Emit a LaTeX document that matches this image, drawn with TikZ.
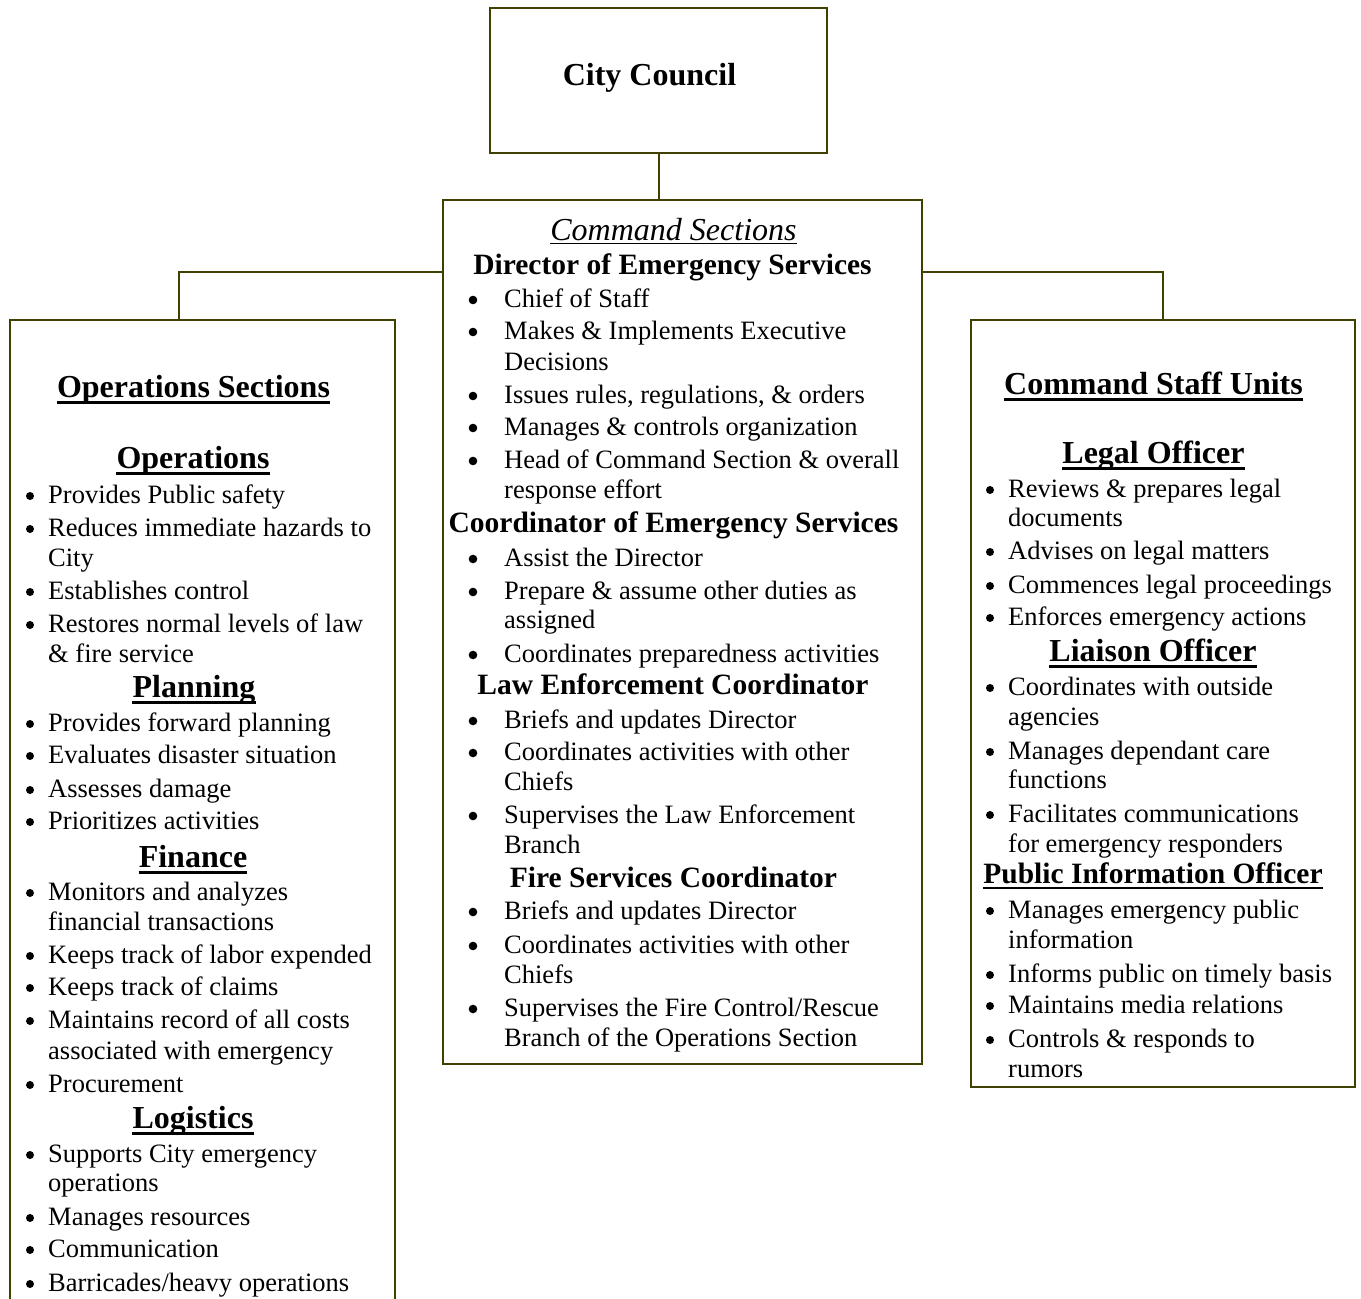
\documentclass[tikz,border=0pt]{standalone}
\usepackage{fontspec}
\setmainfont{Liberation Serif}
\definecolor{boxline}{RGB}{64,64,0}
\tikzset{
 box/.style={draw=boxline, line width=2pt, inner sep=0pt, outer sep=0pt},
 conn/.style={draw=boxline, line width=2pt},
 body/.style={anchor=base west, inner sep=0pt, font=\fontsize{26.5}{32}\selectfont},
 bdot/.style={circle, fill=black, draw=none, inner sep=0pt, minimum size=8.6pt, yshift=7pt},
 hbig/.style={anchor=base, inner sep=0pt, font=\fontsize{32}{38}\selectfont\bfseries},
 hmid/.style={anchor=base, inner sep=0pt, font=\fontsize{29.5}{35}\selectfont\bfseries},
 hital/.style={anchor=base, inner sep=0pt, font=\fontsize{32}{38}\selectfont\itshape},
 ulbold/.style={line width=2.5pt, black},
 ulital/.style={line width=1.6pt, black},
}
\newcommand\ulunder[3]{\draw[#2] ([yshift=-#3]#1.base west) -- ([yshift=-#3]#1.base east);}
\begin{document}
\begin{tikzpicture}[x=1pt,y=-1pt]
\useasboundingbox (0,0) rectangle (1361,1299);
\clip (0,0) rectangle (1361,1299);

% boxes
\node[box, minimum width=337pt, minimum height=145pt] (council) at (658.5,80.5) {};
\node[box, minimum width=479pt, minimum height=864pt] (cmd) at (682.5,632) {};
\node[box, minimum width=385pt, minimum height=990pt] (ops) at (202.5,815) {};
\node[box, minimum width=384pt, minimum height=767pt] (staff) at (1163,703.5) {};

% connectors
\draw[conn] (council.south) -- (council.south |- cmd.north);
\draw[conn] ([yshift=-72pt]cmd.north west) -| ([xshift=169pt]ops.north west);
\draw[conn] ([yshift=-72pt]cmd.north east) -| ([xshift=192pt]staff.north west);

% City Council
\node[hbig] (councilt) at (649.5,85) {City Council};

% ---------------- left box ----------------
\node[hbig] (opsh) at (193.5,397) {Operations Sections};
\ulunder{opsh}{ulbold}{5.5pt}
\node[hbig] (oph1) at (193,468) {Operations};
\ulunder{oph1}{ulbold}{5.5pt}
\node[hbig] (oph2) at (194,697) {Planning};
\ulunder{oph2}{ulbold}{5.5pt}
\node[hbig] (oph3) at (193,867) {Finance};
\ulunder{oph3}{ulbold}{5.5pt}
\node[hbig] (oph4) at (193,1128) {Logistics};
\ulunder{oph4}{ulbold}{5.5pt}

\foreach \yy/\txt [count=\i] in {
 503/{Provides Public safety}, 536/{Reduces immediate hazards to}, 566/{City},
 599/{Establishes control}, 632/{Restores normal levels of law}, 662/{\& fire service},
 731/{Provides forward planning}, 763/{Evaluates disaster situation},
 797/{Assesses damage}, 829/{Prioritizes activities},
 900/{Monitors and analyzes}, 930/{financial transactions},
 963/{Keeps track of labor expended}, 995/{Keeps track of claims},
 1028/{Maintains record of all costs}, 1059/{associated with emergency},
 1092/{Procurement},
 1162/{Supports City emergency}, 1191/{operations},
 1225/{Manages resources}, 1257/{Communication}, 1291/{Barricades/heavy operations}}
 {\node[body] (opt\i) at (48,\yy) {\txt};}
\foreach \yy [count=\i] in {503,536,599,632,731,763,797,829,900,963,995,1028,1092,1162,1225,1257,1291}
 {\node[bdot, minimum size=8pt] (opb\i) at (30,\yy) {};}

% ---------------- center box ----------------
\node[hital] (cmdh) at (673.5,240) {Command Sections};
\ulunder{cmdh}{ulital}{3.5pt}
\node[hmid] (cmh1) at (672.5,274) {Director of Emergency Services};
\node[hmid] (cmh2) at (673.5,532) {Coordinator of Emergency Services};
\node[hmid] (cmh3) at (673,694) {Law Enforcement Coordinator};
\node[hmid] (cmh4) at (673.5,887) {Fire Services Coordinator};

\foreach \yy/\txt [count=\i] in {
 307/{Chief of Staff}, 339/{Makes \& Implements Executive}, 370/{Decisions},
 403/{Issues rules, regulations, \& orders}, 435/{Manages \& controls organization},
 468/{Head of Command Section \& overall}, 498/{response effort},
 566/{Assist the Director}, 599/{Prepare \& assume other duties as}, 628/{assigned},
 662/{Coordinates preparedness activities},
 728/{Briefs and updates Director}, 760/{Coordinates activities with other}, 790/{Chiefs},
 823/{Supervises the Law Enforcement}, 853/{Branch},
 919/{Briefs and updates Director}, 953/{Coordinates activities with other}, 983/{Chiefs},
 1016/{Supervises the Fire Control/Rescue}, 1046/{Branch of the Operations Section}}
 {\node[body] (cmt\i) at (504,\yy) {\txt};}
\foreach \yy [count=\i] in {307,339,403,435,468,566,599,662,728,760,823,919,953,1016}
 {\node[bdot] (cmb\i) at (473,\yy) {};}

% ---------------- right box ----------------
\node[hbig] (stfh) at (1153.5,394) {Command Staff Units};
\ulunder{stfh}{ulbold}{5.5pt}
\node[hbig] (sth1) at (1153.5,463) {Legal Officer};
\ulunder{sth1}{ulbold}{5.5pt}
\node[hbig] (sth2) at (1153,661) {Liaison Officer};
\ulunder{sth2}{ulbold}{5.5pt}
\node[hmid] (sth3) at (1153,883) {Public Information Officer};
\ulunder{sth3}{ulbold}{5pt}

\foreach \yy/\txt [count=\i] in {
 497/{Reviews \& prepares legal}, 526/{documents}, 559/{Advises on legal matters},
 593/{Commences legal proceedings}, 625/{Enforces emergency actions},
 695/{Coordinates with outside}, 725/{agencies},
 759/{Manages dependant care}, 788/{functions},
 822/{Facilitates communications}, 852/{for emergency responders},
 918/{Manages emergency public}, 948/{information},
 982/{Informs public on timely basis}, 1013/{Maintains media relations},
 1047/{Controls \& responds to}, 1077/{rumors}}
 {\node[body] (stt\i) at (1008,\yy) {\txt};}
\foreach \yy [count=\i] in {497,559,593,625,695,759,822,918,982,1013,1047}
 {\node[bdot, minimum size=8pt] (stb\i) at (990,\yy) {};}
\end{tikzpicture}
\end{document}
